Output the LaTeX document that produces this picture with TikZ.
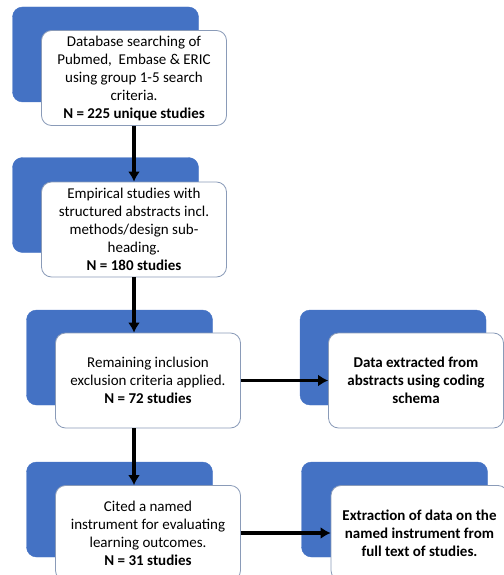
\documentclass[tikz,border=0pt]{standalone}
\usepackage{fontspec}
\setmainfont{Carlito}
\usetikzlibrary{arrows.meta}

\definecolor{azul}{HTML}{4472C4}
\definecolor{borde}{HTML}{8A9BB8}

\tikzset{
  fondo/.style={fill=azul, draw=azul, rounded corners=10pt, minimum width=186pt, minimum height=95pt, inner sep=0pt},
  caja/.style={fill=white, draw=borde, line width=0.8pt, rounded corners=10pt, minimum width=185pt, minimum height=95pt, inner sep=0pt, align=center, font=\fontsize{15}{18}\selectfont},
  flecha/.style={black, ->, line width=3.4pt}
}

\begin{document}
\begin{tikzpicture}[x=1pt, y=-1pt, >={Latex[length=10pt,width=12pt]}]

\useasboundingbox (0,0) rectangle (503,575);

% Fondos
\node[fondo] (f1) at (105.5,54.5) {};
\node[fondo] (f2) at (105.5,205) {};
\node[fondo] (f3) at (119.5,357.5) {};
\node[fondo] (f4) at (393,357.5) {};
\node[fondo] (f5) at (119.5,509.5) {};
\node[fondo] (f6) at (394.5,509.5) {};

% Busqueda
\node[caja] (b1) at (134,78) {Database searching of\\Pubmed,\ \ Embase \& ERIC\\using group 1-5 search\\criteria.\\\textbf{N = 225 unique studies}};

% Empiricos
\node[caja] (b2) at (134,229.5) {Empirical studies with\\structured abstracts incl.\\methods/design sub-\\heading.\\\textbf{N = 180 studies}};

% Inclusion
\node[caja] (b3) at (148,380.5) {Remaining inclusion\\exclusion criteria applied.\\\textbf{N = 72 studies}};

% Extraccion 1
\node[caja, minimum width=175pt, font=\fontsize{15}{18}\selectfont\bfseries] (b4) at (416,380.5) {Data extracted from\\abstracts using coding\\schema};

% Instrumento
\node[caja] (b5) at (148,533) {Cited a named\\instrument for evaluating\\learning outcomes.\\\textbf{N = 31 studies}};

% Extraccion 2
\node[caja, minimum width=177pt, font=\fontsize{15}{18}\selectfont\bfseries] (b6) at (419.5,533) {Extraction of data on the\\named instrument from\\full text of studies.};

% Flechas
\draw[flecha] (b1.south) -- (b2.north);
\draw[flecha] (b2.south) -- (b2.south |- b3.north);
\draw[flecha] (b2.south |- b3.south) -- (b2.south |- b5.north);
\draw[flecha] (b3.east) -- (b4.west);
\draw[flecha] (b5.east) -- (b6.west);

\end{tikzpicture}
\end{document}
